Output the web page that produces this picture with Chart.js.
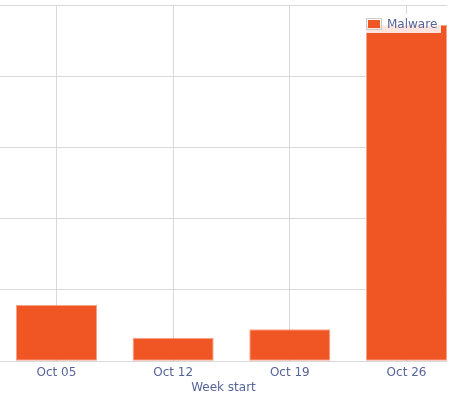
<!DOCTYPE html>
<html>
<head>
<meta charset="utf-8">
<script src="https://cdn.jsdelivr.net/npm/chart.js@4"></script>
<style>
  html, body { margin: 0; padding: 0; background: #fff; }
  #wrap { position: relative; width: 470px; height: 399px; overflow: hidden; }
  #legend {
    position: absolute; left: 365px; top: 14px; height: 19px;
    padding: 0 4px 0 1px; background: rgba(255, 255, 255, 0.85);
    display: flex; align-items: center;
    font: 12px "DejaVu Sans", sans-serif; color: #56659a;
  }
  #legend .box { border: 1px solid #ccc; padding: 1px; margin-right: 5px; }
  #legend .box div { width: 12px; height: 8px; }
</style>
</head>
<body>
<div id="wrap">
  <canvas id="myChart" width="470" height="399"></canvas>
  <div id="legend"></div>
</div>
<script>
// weekly counts
const weeks = ['Oct 05', 'Oct 12', 'Oct 19', 'Oct 26'];
const malware = [7.9, 3.3, 4.5, 47.2];
const seriesName = 'Malware';
const yTicks = [0, 10, 20, 30, 40, 50];

const barColor = '#f05524';
const textColor = '#56659a';
const gridColor = '#d9d9d9';

const ctx = document.getElementById('myChart').getContext('2d');
new Chart(ctx, {
  type: 'bar',
  data: {
    datasets: [{
      label: seriesName,
      data: malware.map((v, i) => ({ x: i, y: v })),
      backgroundColor: barColor,
      borderColor: 'rgba(244, 140, 110, 0.8)',
      borderWidth: 1,
      borderSkipped: false,
      barPercentage: 0.695,
      categoryPercentage: 1
    }]
  },
  options: {
    responsive: false,
    animation: false,
    layout: { padding: { top: 5, right: 23, left: 0, bottom: 0 } },
    plugins: { legend: { display: false }, tooltip: { enabled: false } },
    scales: {
      x: {
        type: 'linear',
        offset: false,
        min: -0.484,
        max: 3.347,
        afterBuildTicks: axis => { axis.ticks = weeks.map((w, i) => ({ value: i })); },
        ticks: {
          autoSkip: false,
          maxRotation: 0,
          padding: 4,
          color: textColor,
          font: { family: 'DejaVu Sans', size: 12 },
          callback: v => weeks[v]
        },
        grid: { color: gridColor, drawTicks: false, offset: false },
        border: { display: false },
        title: {
          display: true,
          text: 'Week start',
          color: textColor,
          font: { family: 'DejaVu Sans', size: 12 },
          padding: { top: -3, bottom: 4 }
        }
      },
      y: {
        min: yTicks[0],
        max: yTicks[yTicks.length - 1],
        afterBuildTicks: axis => { axis.ticks = yTicks.map(v => ({ value: v })); },
        ticks: { display: false },
        grid: { color: gridColor, drawTicks: false },
        border: { display: false }
      }
    }
  }
});

// legend box drawn over the plot, top right
const legend = document.getElementById('legend');
legend.innerHTML = '<div class="box"><div style="background:' + barColor + '"></div></div><span>' + seriesName + '</span>';
</script>
</body>
</html>
